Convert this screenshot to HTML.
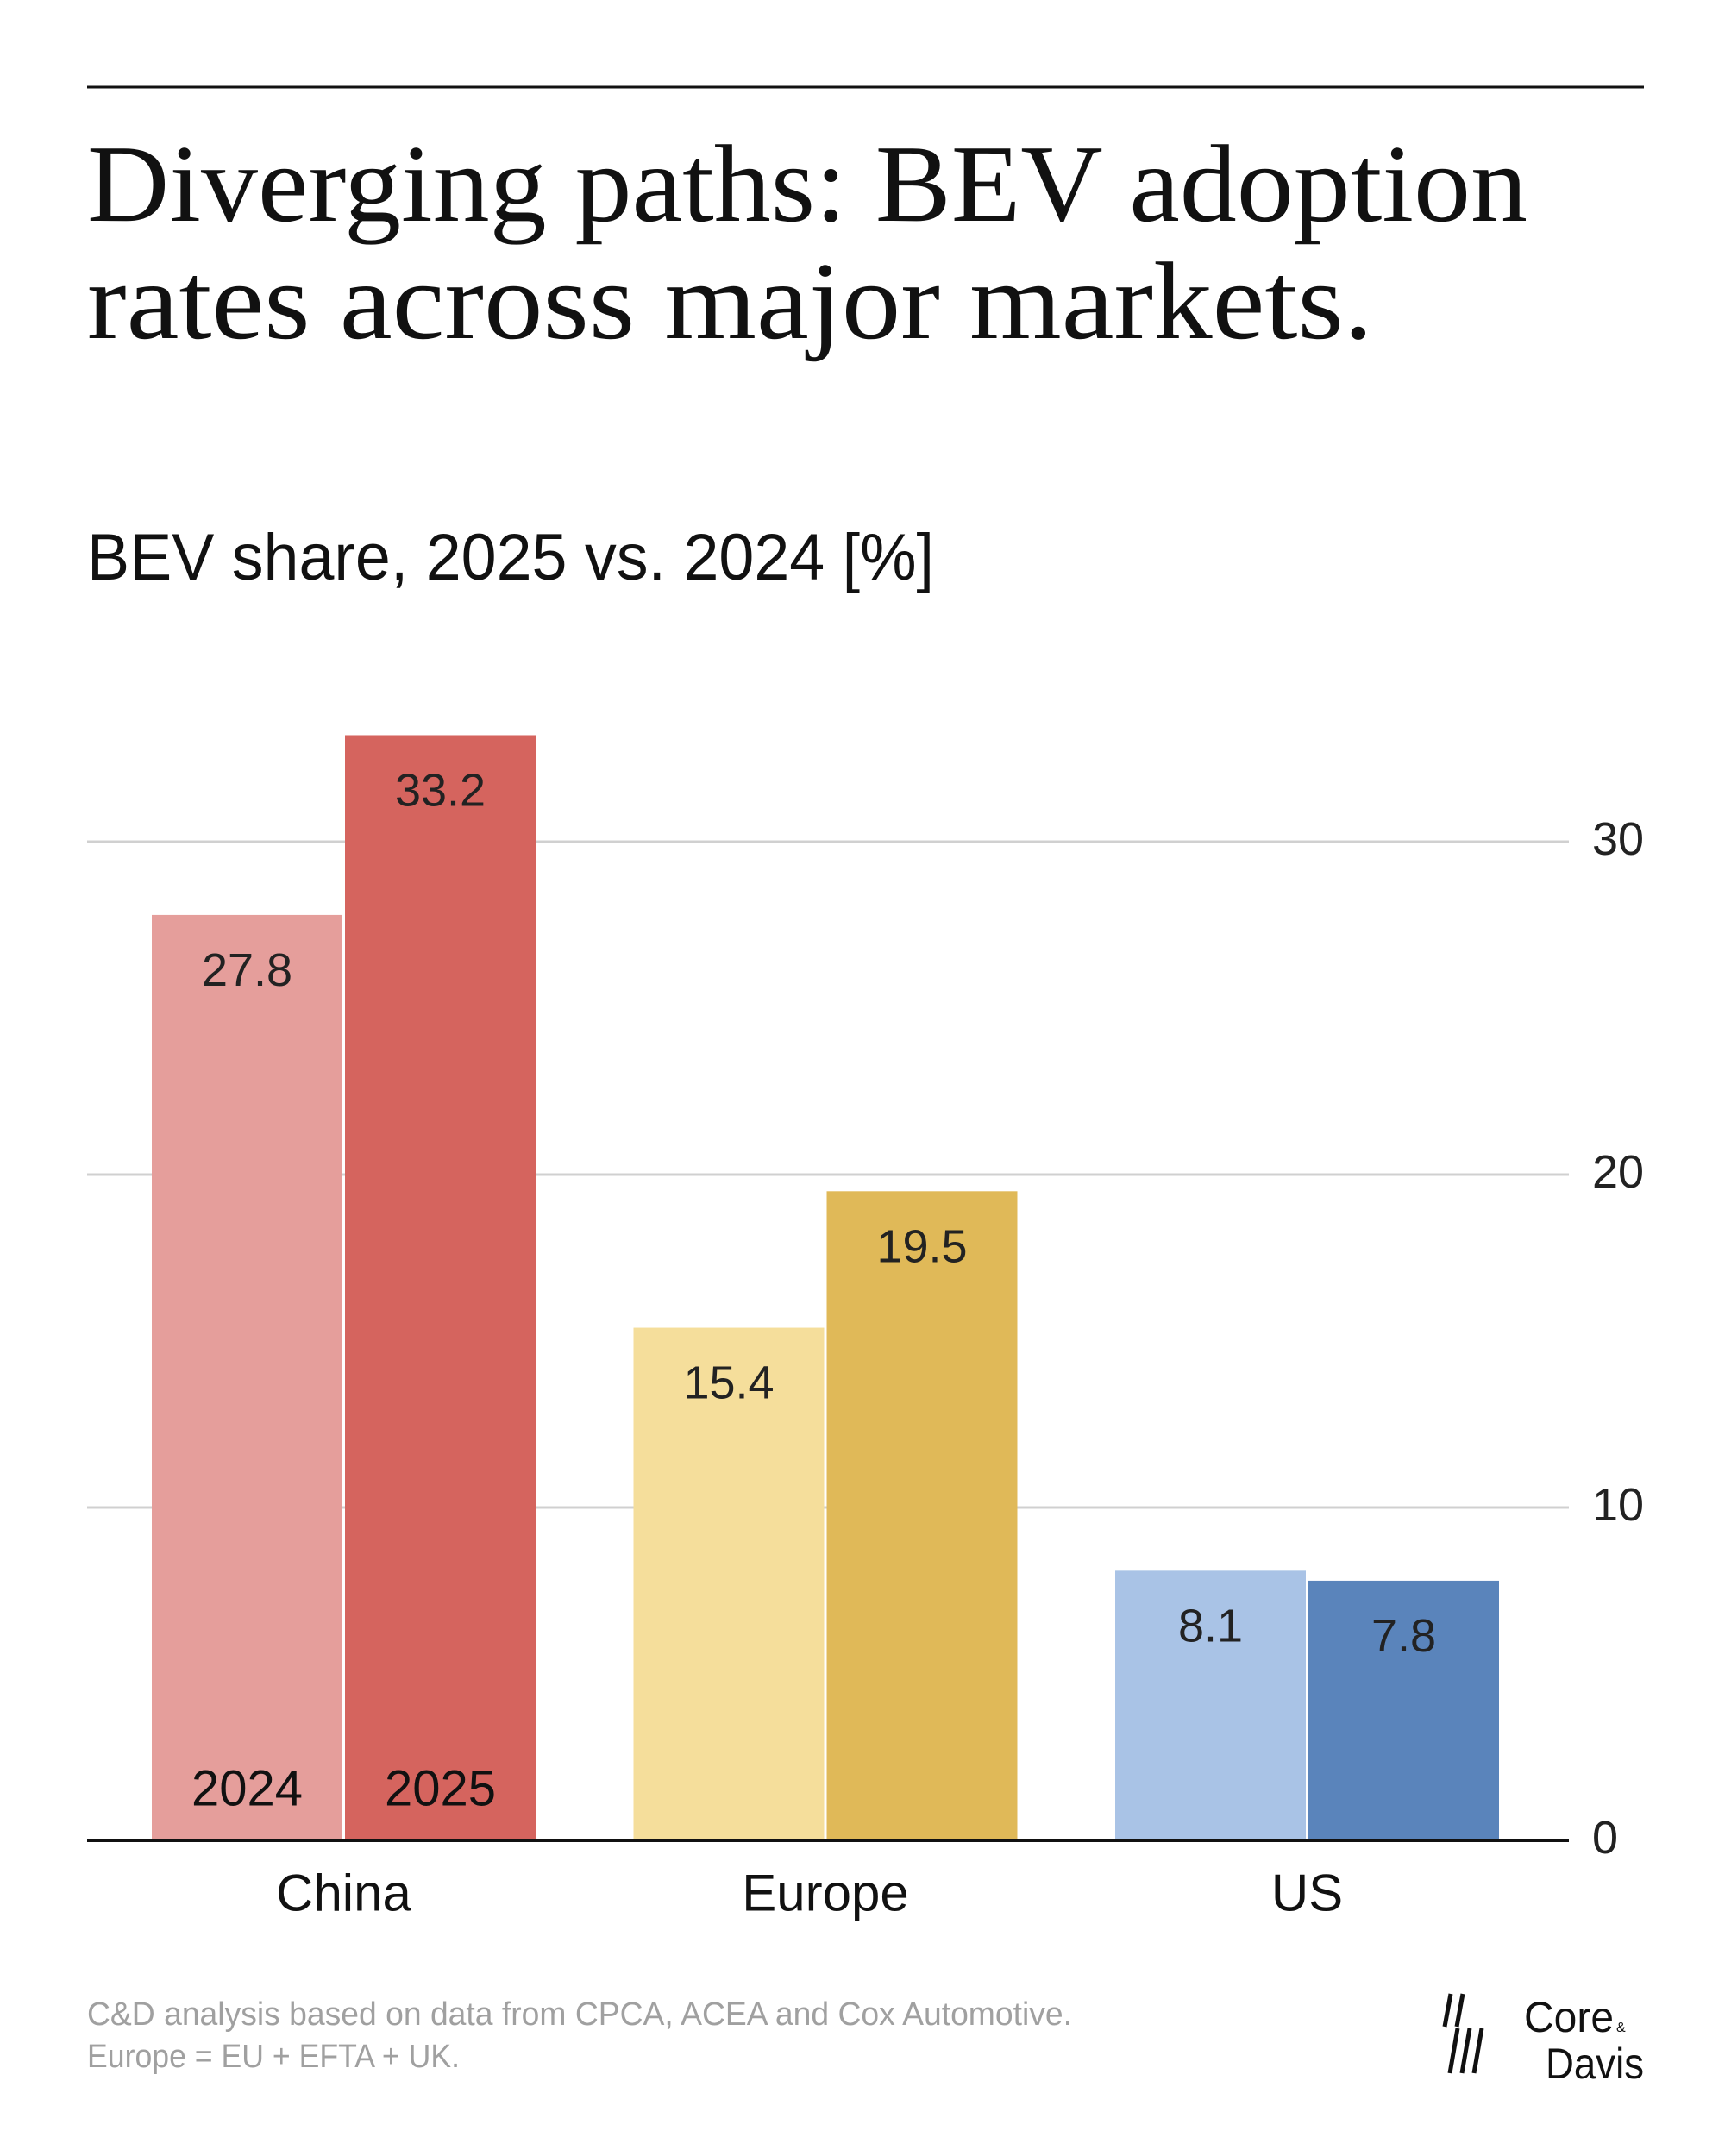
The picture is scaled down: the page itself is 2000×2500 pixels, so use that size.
<!DOCTYPE html>
<html><head><meta charset="utf-8"><style>
html,body{margin:0;padding:0;background:#fff;}
svg{display:block;}
text{font-family:"Liberation Sans",sans-serif;}
</style></head><body>
<svg id="chart" width="2000" height="2500" viewBox="0 0 2000 2500" xmlns="http://www.w3.org/2000/svg">
<rect x="0" y="0" width="2000" height="2500" fill="#fff"/>
<line x1="101" y1="101" x2="1906" y2="101" stroke="#111" stroke-width="3"/>
<text x="101" y="256" font-size="128" fill="#111" textLength="1670" lengthAdjust="spacingAndGlyphs" style="font-family:'Liberation Serif',serif">Diverging paths: BEV adoption</text>
<text x="101" y="392" font-size="128" fill="#111" textLength="1491" lengthAdjust="spacingAndGlyphs" style="font-family:'Liberation Serif',serif">rates across major markets.</text>
<text x="101" y="672" font-size="76" fill="#111" textLength="982" lengthAdjust="spacingAndGlyphs">BEV share, 2025 vs. 2024 [%]</text>
<g id="grid"></g>
<g id="bars"></g>
<g id="labels"></g>
<line x1="101" y1="2134" x2="1819" y2="2134" stroke="#111" stroke-width="4"/>
<text x="101" y="2348" font-size="38" fill="#a0a0a0" textLength="1142" lengthAdjust="spacingAndGlyphs">C&amp;D analysis based on data from CPCA, ACEA and Cox Automotive.</text>
<text x="101" y="2397" font-size="38" fill="#a0a0a0" textLength="432" lengthAdjust="spacingAndGlyphs">Europe = EU + EFTA + UK.</text>
<g>
<line x1="1682" y1="2312" x2="1675" y2="2350" stroke="#111" stroke-width="5"/>
<line x1="1696" y1="2312" x2="1689" y2="2350" stroke="#111" stroke-width="5"/>
<line x1="1690" y1="2352" x2="1681" y2="2404" stroke="#111" stroke-width="5"/>
<line x1="1704" y1="2352" x2="1695" y2="2404" stroke="#111" stroke-width="5"/>
<line x1="1718" y1="2352" x2="1709" y2="2404" stroke="#111" stroke-width="5"/>
<text x="1767" y="2356" font-size="50" fill="#111" textLength="104" lengthAdjust="spacingAndGlyphs">Core</text>
<text x="1874" y="2356" font-size="16" fill="#111">&amp;</text>
<text x="1792" y="2410" font-size="50" fill="#111" textLength="114" lengthAdjust="spacingAndGlyphs">Davis</text>
</g>
</svg>
<script>
const categories = ["China", "Europe", "US"];
const values2024 = [27.8, 15.4, 8.1];
const values2025 = [33.2, 19.5, 7.8];
const tickValues = [0, 10, 20, 30];
const tickLabels = ["0", "10", "20", "30"];
const yearLabels = ["2024", "2025"];

const NS = "http://www.w3.org/2000/svg";
const baseY = 2134, pxPerUnit = 38.6;
function yScale(v){ return baseY - v * pxPerUnit; }
const groupStart = 176, groupStep = 558.5, barW = 221, barGap = 3;
function xBar(i, s){ return groupStart + i * groupStep + s * (barW + barGap); }
const colors = [["#e59e9b","#d5645e"],["#f5de9b","#e0b958"],["#a9c3e6","#5a84bb"]];

function mk(tag, attrs, parent, txt){
  const el = document.createElementNS(NS, tag);
  for (const k in attrs) el.setAttribute(k, attrs[k]);
  if (txt !== undefined) el.textContent = txt;
  parent.appendChild(el);
  return el;
}
const grid = document.getElementById("grid");
const bars = document.getElementById("bars");
const labels = document.getElementById("labels");

tickValues.forEach((t, i) => {
  if (t > 0) {
    const gl = mk("line", {x1:101, x2:1819, y1:yScale(t), y2:yScale(t), stroke:"#d0d0d0", "stroke-width":3}, grid);
    
    
  }
  const tl = mk("text", {x:1846, y:yScale(t) - 3, "dominant-baseline":"central", "font-size":54, fill:"#222"}, grid, tickLabels[i]);
  
  
});

categories.forEach((c, i) => {
  [values2024[i], values2025[i]].forEach((v, s) => {
    const x = xBar(i, s), y = yScale(v);
    const r = mk("rect", {x:x, y:y, width:barW, height:baseY - y, fill:colors[i][s]}, bars);
    
    
    const vl = mk("text", {x:x + barW/2, y:y + 64, "text-anchor":"middle", "dominant-baseline":"central", "font-size":54, fill:"#222"}, labels, v.toFixed(1));
    
    
    if (i === 0) {
      const yl = mk("text", {x:x + barW/2, y:baseY - 60, "text-anchor":"middle", "dominant-baseline":"central", "font-size":58, fill:"#111"}, labels, yearLabels[s]);
      
      
    }
  });
  const cl = mk("text", {x:xBar(i,0) + barW + barGap/2, y:2195, "text-anchor":"middle", "dominant-baseline":"central", "font-size":60, fill:"#111"}, labels, c);
  
  
});
</script>
</body></html>
